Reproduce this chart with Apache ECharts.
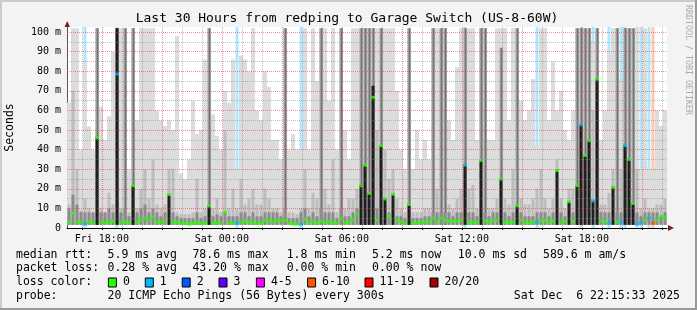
<!DOCTYPE html>
<html>
<head>
<meta charset="utf-8">
<script src="https://cdn.jsdelivr.net/npm/echarts@6/dist/echarts.min.js"></script>
<style>
html,body{margin:0;padding:0;background:#f3f3f3;}
#c{width:697px;height:310px;}
</style>
</head>
<body>
<div id="c"></div>
<script>
// ---- data (12-minute bins, Fri 16:15:33 -> Sat 22:15:33) ----
const startMinute = 975.55;          // minutes since Fri 00:00
const binMinutes = 12;
// top of light smoke (max ping), ms
const smokeLight = [64,102,102,40,85,52,40,102,62,45,57,90,102,102,102,30,102,55,102,102,
  102,102,60,55,52,55,50,98,28,25,35,65,48,50,86,102,58,47,40,70,
  64,86,30,88,86,80,102,60,55,80,72,45,45,35,102,40,48,40,40,102,
  40,102,75,102,102,65,102,40,102,50,35,102,102,102,102,102,102,102,102,102,
  102,102,70,40,30,102,30,50,35,45,35,102,102,102,102,55,45,82,102,102,
  102,102,45,102,102,45,45,102,102,102,55,102,102,65,55,60,76,42,102,102,
  55,85,60,70,50,45,60,102,102,102,102,95,102,45,60,90,102,102,76,102,
  102,102,102,30,102,30,30,60,52,60];
// top of mid-gray smoke
const smokeMid = [12,70,30,9,15,10,8,102,10,8,18,12,102,10,102,8,102,10,20,30,
  15,35,12,10,12,30,30,8,7,7,7,8,25,8,10,102,10,15,8,50,
  10,20,10,25,12,15,20,12,12,20,15,10,10,8,102,8,8,7,10,30,
  10,18,15,102,20,12,35,8,102,10,15,15,20,102,102,102,102,50,102,40,
  25,30,15,10,8,102,8,8,8,10,10,102,20,102,102,12,10,15,20,102,
  20,22,10,102,102,10,10,15,92,15,12,30,102,15,12,12,15,20,30,15,
  10,15,35,15,10,20,20,102,102,102,102,60,102,12,12,18,30,102,30,102,
  102,102,30,10,15,10,10,12,12,15];
// top of dark smoke (black when the median is high)
const smokeDark = [10,17,12,8,8,8,8,46,8,8,10,8,102,8,10,6,21.5,8,10,12,
  8,10,8,6,8,17,8,6,5,5,5,5,8,5,6,11,6,7,6,8,
  6,6,6,8,8,6,8,6,6,8,8,8,8,6,10,5,5,5,8,10,
  6,8,6,10,8,8,8,5,10,6,6,8,10,22,32,17.7,72.6,10,42,15,
  8,17,6,6,5,12,5,5,5,6,6,8,8,8,8,8,6,8,8,32,
  8,8,6,34.5,8,6,8,8,25,8,6,8,11.3,8,6,6,6,8,8,8,
  6,8,29.3,8,6,13.4,8,21.6,52.6,37,44.6,13.8,76,8,8,8,20.8,8,8,42,
  35,12.5,8,6,8,8,8,8,6,8];
// median rtt, ms
const medianRtt = [3,7.5,3,3,2,3,3,46,3,2.5,3,3.5,78.6,3,3,2.5,21.5,3,4,5,
  4,5.5,3,3,3.5,17,3,3,2.5,2.5,2,2.5,2.5,2.5,2.5,11.2,2.5,2.5,2.5,8,
  2.5,2.5,2.5,3,3.5,3,2.5,2.5,2.5,4,3.5,3,4,4,4,2.5,2,2,2,4.5,
  2.5,3.5,2.5,3.5,3,3,2.5,2.5,5,2.5,3,4,7,21.5,32,17.7,66.7,4,42,14.8,
  6,17.2,4,3,2.5,12,2.5,2.5,3,3,3.5,5,3,5,4,3.5,3.5,3.5,4,32,
  2.5,3,3,34.5,3.5,3,4,4,25,3,3,3,11.3,4,2.5,2.5,3,3,3.5,4,
  3,3.5,29.3,3,3.5,13.4,3.5,21.6,52.6,37,44.6,13.8,76,3.5,3.5,2.5,20.8,3,3,42,
  35,12.5,2,2.5,4,5,2.5,4,6,5];
// loss class index (0 = none, 1 = "1", ... 5 = "6-10")
const lossClass = [0,0,0,0,1,0,0,0,0,0,0,0,1,0,0,0,0,0,0,0,
  0,0,0,0,0,0,0,0,0,0,0,0,0,0,0,0,0,0,0,0,
  0,0,1,0,0,0,0,0,0,0,0,0,0,0,0,0,0,0,1,0,
  0,0,0,0,0,0,0,0,0,0,0,0,0,0,0,0,0,0,0,0,
  0,0,0,0,0,0,0,0,0,0,0,0,0,0,0,0,0,0,0,1,
  0,0,0,0,0,0,0,0,0,0,0,0,0,0,0,0,0,1,0,0,
  0,0,0,0,0,0,0,0,1,0,0,1,0,0,0,1,0,0,1,1,
  0,0,1,1,0,1,5,0,0,0];
const lossNames = ['0','1','2','3','4-5','6-10','11-19','20/20'];
const lossColors = ['#26ff00','#00b8ff','#0059ff','#5e00ff','#ff00ff','#ff5500','#ff0000','#a10000'];
const lossBg = ['rgba(0,0,0,0)','rgba(0,184,255,0.32)','rgba(0,89,255,0.32)','rgba(94,0,255,0.32)','rgba(255,0,255,0.32)','rgba(255,85,0,0.32)','rgba(255,0,0,0.32)','rgba(161,0,0,0.32)'];
// axis ticks / labels
const hourGrid = [17,18,19,20,21,22,23,24,25,26,27,28,29,30,31,32,33,34,35,36,37,38,39,40,41,42,43,44,45,46];
const rttGrid = [5,10,15,20,25,30,35,40,45,50,55,60,65,70,75,80,85,90,95,100];
const timeLabelMinutes = [1080,1440,1800,2160,2520];
const timeLabels = ['Fri 18:00','Sat 00:00','Sat 06:00','Sat 12:00','Sat 18:00'];
const yMax = 102.6, smokeFloor = 1.6;

const MONO = 'DejaVu Sans Mono';
const chart = echarts.init(document.getElementById('c'), null, {renderer:'canvas'});

const smokeData = smokeLight.map((v,i) => [startMinute + i*binMinutes, v, smokeMid[i], smokeDark[i], medianRtt[i], lossClass[i]]);
const medData = medianRtt.map((v,i) => ({value:[startMinute + (i+0.5)*binMinutes, v], itemStyle:{color: lossColors[lossClass[i]]}}));

function renderSmoke(params, api) {
  const t = api.value(0);
  const left = api.coord([t, 0])[0];
  const right = api.coord([t + binMinutes, 0])[0];
  const w = right - left;
  const yOf = v => api.coord([t, v])[1];
  const yF = yOf(smokeFloor);
  const kids = [];
  const loss = api.value(5);
  if (loss > 0) {
    kids.push({type:'rect', shape:{x:left+0.5, y:yOf(yMax), width:3, height:yOf(0)-yOf(yMax)}, style:{fill:lossBg[loss]}});
  }
  const band = (v, color, x, bw) => {
    if (v <= smokeFloor) return;
    const yt = yOf(v);
    kids.push({type:'rect', shape:{x:x, y:yt, width:bw, height:yF-yt}, style:{fill:color}});
  };
  band(api.value(1), '#dcdcdc', left, w);
  const mid = api.value(2);
  if (mid >= 90) {
    band(mid, '#c4c4c4', left, w);
    band(mid, '#747474', left+1.5, 2);
  } else {
    band(mid, '#bdbdbd', left+0.5, w-1);
  }
  const med = api.value(4);
  if (med >= 9) band(api.value(3), '#1e1e1e', left+0.5, 3);
  else band(api.value(3), '#8c8c8c', left+0.5, w-1);
  return {type:'group', children:kids};
}

const gridLines = [];
hourGrid.forEach(h => gridLines.push({xAxis:h*60, lineStyle:{color: h%3===0 ? 'rgba(225,70,70,0.6)' : 'rgba(140,140,140,0.55)'}}));
rttGrid.forEach(v => gridLines.push({yAxis:v, lineStyle:{color: v%10===0 ? 'rgba(225,70,70,0.6)' : 'rgba(140,140,140,0.55)'}}));

const g = [];
const txt = (x, y, s, opt) => g.push(Object.assign({type:'text', x:x, y:y, silent:true, z:10,
  style:{text:s, fontFamily:MONO, fontSize:11.5, fill:'#000', align:'left', verticalAlign:'middle'}}, opt||{}));
// frame
g.push({type:'rect', shape:{x:0,y:0,width:697,height:2}, style:{fill:'#cbcbcb'}, silent:true});
g.push({type:'rect', shape:{x:0,y:0,width:2,height:310}, style:{fill:'#cbcbcb'}, silent:true});
g.push({type:'rect', shape:{x:695,y:0,width:2,height:310}, style:{fill:'#999'}, silent:true});
g.push({type:'rect', shape:{x:0,y:308,width:697,height:2}, style:{fill:'#999'}, silent:true});
// arrows
g.push({type:'polygon', shape:{points:[[64.5,27],[70,27],[67.2,21]]}, style:{fill:'#7f1f1f'}, silent:true, z:10});
g.push({type:'polygon', shape:{points:[[668,225],[668,231],[674,228]]}, style:{fill:'#7f1f1f'}, silent:true, z:10});
// title, axis name, watermark
txt(347, 19, '', {style:{text:'Last 30 Hours from redping to Garage Switch (US-8-60W)', fontFamily:MONO, fontSize:13, fill:'#000', align:'center', verticalAlign:'middle'}});
txt(10, 127.5, '', {rotation:Math.PI/2, style:{text:'Seconds', fontFamily:MONO, fontSize:11.5, fill:'#000', align:'center', verticalAlign:'middle'}});
txt(688, 5, '', {rotation:-Math.PI/2, style:{text:'RRDTOOL / TOBI OETIKER', fontFamily:MONO, fontSize:8.3, fill:'#aaaaaa', align:'left', verticalAlign:'middle'}});
// legend rows
const r1 = 255, r2 = 268.5, r3 = 282.5, r4 = 296;
txt(16, r1, 'median rtt:');
txt(107.6, r1, '5.9 ms avg'); txt(192.4, r1, '78.6 ms max'); txt(286.7, r1, '1.8 ms min');
txt(372, r1, '5.2 ms now'); txt(457.8, r1, '10.0 ms sd'); txt(543, r1, '589.6 m am/s');
txt(16, r2, 'packet loss:');
txt(107.6, r2, '0.28 % avg'); txt(192.4, r2, '43.20 % max'); txt(286.7, r2, '0.00 % min'); txt(372, r2, '0.00 % now');
txt(16, r3, 'loss color:');
const boxX = [108.4,145.3,182.2,219,256.4,307.6,365,430];
lossNames.forEach((n,i) => {
  g.push({type:'rect', shape:{x:boxX[i], y:r3-4.5, width:8, height:9}, style:{fill:lossColors[i], stroke:'#000', lineWidth:1}, silent:true, z:10});
  txt(boxX[i]+14.5, r3, n);
});
txt(16, r4, 'probe:');
txt(107.6, r4, '20 ICMP Echo Pings (56 Bytes) every 300s');
txt(680, r4, '', {style:{text:'Sat Dec  6 22:15:33 2025', fontFamily:MONO, fontSize:11.5, fill:'#000', align:'right', verticalAlign:'middle'}});

chart.setOption({
  animation:false,
  backgroundColor:'#f3f3f3',
  grid:{left:67, right:30, top:27, bottom:82, show:true, backgroundColor:'#ffffff', borderWidth:0},
  xAxis:{type:'value', min:startMinute, max:startMinute+1800,
    axisLine:{show:true, lineStyle:{color:'#000', width:1}},
    axisTick:{show:true, customValues: hourGrid.map(h=>h*60), length:2, lineStyle:{color:'#000'}},
    axisLabel:{show:true, customValues: timeLabelMinutes, margin:6, fontFamily:MONO, fontSize:10, color:'#000',
      formatter: v => { const k = timeLabelMinutes.indexOf(Math.round(v)); return k>=0 ? timeLabels[k] : ''; }},
    splitLine:{show:false}},
  yAxis:{type:'value', min:0, max:yMax, interval:10,
    axisLine:{show:true, lineStyle:{color:'#555', width:1}},
    axisTick:{show:false},
    axisLabel:{margin:6, fontFamily:MONO, fontSize:10, color:'#000',
      formatter: v => { if (Math.abs(v % 10) > 1e-6 || v > 100) return ''; return v === 0 ? '0' : v + ' m'; }},
    splitLine:{show:false}},
  series:[
    {type:'custom', renderItem:renderSmoke, data:smokeData, z:2, silent:true, clip:true},
    {type:'line', data:[], z:3, silent:true,
      markLine:{silent:true, symbol:['none','none'], label:{show:false}, animation:false,
        lineStyle:{type:[1,1], width:1}, data:gridLines}},
    {type:'scatter', data:medData, symbol:'rect', symbolSize:[4,3], z:4, silent:true}
  ],
  graphic:g
});
</script>
</body>
</html>
